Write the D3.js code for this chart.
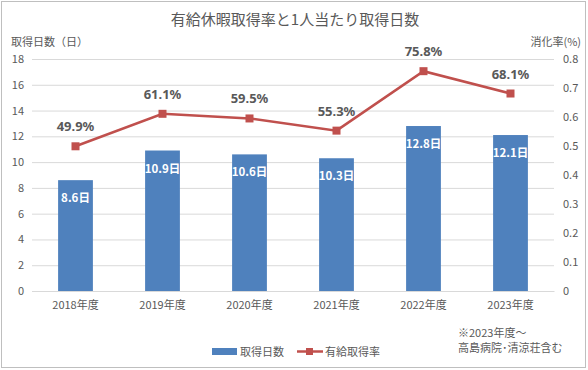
<!DOCTYPE html>
<html><head><meta charset="utf-8">
<script src="https://cdn.jsdelivr.net/npm/d3@7"></script>
<style>
body{margin:0;background:#fff;}
svg{display:block;font-family:"Noto Sans CJK JP","Noto Sans",sans-serif;}
</style></head>
<body>
<svg id="c" width="588" height="370"></svg>
<script>
const categories = ["2018年度","2019年度","2020年度","2021年度","2022年度","2023年度"];
const daysTaken = [8.6, 10.9, 10.6, 10.3, 12.8, 12.1];
const rateTaken = [0.499, 0.611, 0.595, 0.553, 0.758, 0.681];
const leftTicks = [0,2,4,6,8,10,12,14,16,18];
const rightTicks = [0,0.1,0.2,0.3,0.4,0.5,0.6,0.7,0.8];

const svg = d3.select("#c");
const gray = "#595959";
svg.append("rect").attr("x",1.5).attr("y",1.5).attr("width",584).attr("height",366)
  .attr("fill","#fff").attr("stroke","#BFBFBF").attr("stroke-width",1);

const x = d3.scaleBand().domain(categories).range([32,554]).paddingInner(0.6).paddingOuter(0.3);
const yL = d3.scaleLinear().domain([0,18]).range([291,59]);
const yR = d3.scaleLinear().domain([0,0.8]).range([291,59]);

// gridlines
svg.append("g").selectAll("line").data(leftTicks).join("line")
  .attr("x1",32).attr("x2",554).attr("y1",d=>yL(d)+0.5).attr("y2",d=>yL(d)+0.5)
  .attr("stroke","#D9D9D9").attr("stroke-width",1);

// left axis
const axL = svg.append("g").attr("transform","translate(32,0)")
  .call(d3.axisLeft(yL).tickValues(leftTicks).tickSize(0).tickPadding(8));
axL.select(".domain").remove();
axL.selectAll("text").attr("fill",gray).style("font-size","11px").style("font-family","'Noto Sans CJK JP',sans-serif");

// right axis
const axR = svg.append("g").attr("transform","translate(554,0)")
  .call(d3.axisRight(yR).tickValues(rightTicks).tickFormat(d=>d===0?"0":d3.format(".1f")(d)).tickSize(0).tickPadding(9));
axR.select(".domain").remove();
axR.selectAll("text").attr("fill",gray).style("font-size","11px").style("font-family","'Noto Sans CJK JP',sans-serif");

// bottom axis
const axB = svg.append("g").attr("transform","translate(0,291)")
  .call(d3.axisBottom(x).tickSize(0).tickPadding(10));
axB.select(".domain").attr("stroke","#D9D9D9");
axB.selectAll("text").attr("fill",gray).style("font-size","11px").style("font-family","'Noto Sans CJK JP',sans-serif");

// bars
svg.append("g").selectAll("rect").data(daysTaken).join("rect")
  .attr("x",(d,i)=>x(categories[i])).attr("width",x.bandwidth())
  .attr("y",d=>yL(d)).attr("height",d=>yL(0)-yL(d)).attr("fill","#4F81BD");
svg.append("g").selectAll("text").data(daysTaken).join("text")
  .attr("x",(d,i)=>x(categories[i])+x.bandwidth()/2).attr("y",d=>yL(d)+22)
  .attr("text-anchor","middle").attr("fill","#fff").style("font-size","11.5px").style("font-weight","bold")
  .text(d=>d3.format(".1f")(d)+"日");

// line
const cx = (i)=>x(categories[i])+x.bandwidth()/2;
svg.append("path").datum(rateTaken)
  .attr("d",d3.line().x((d,i)=>cx(i)).y(d=>yR(d)))
  .attr("fill","none").attr("stroke","#C0504D").attr("stroke-width",2.5);
svg.append("g").selectAll("rect").data(rateTaken).join("rect")
  .attr("x",(d,i)=>cx(i)-4).attr("y",d=>yR(d)-4).attr("width",8).attr("height",8)
  .attr("fill","#C0504D");
svg.append("g").selectAll("text").data(rateTaken).join("text")
  .attr("x",(d,i)=>cx(i)).attr("y",d=>yR(d)-15)
  .attr("text-anchor","middle").attr("fill",gray).style("font-size","13px").style("font-weight","bold")
  .style("font-family","'Noto Sans',sans-serif")
  .text(d=>d3.format(".1f")(d*100)+"%");

// titles
svg.append("text").attr("x",295).attr("y",25).attr("text-anchor","middle").attr("fill",gray)
  .style("font-size","15px").text("有給休暇取得率と1人当たり取得日数");
svg.append("text").attr("x",11).attr("y",46).attr("fill",gray).style("font-size","11px").text("取得日数（日）");
svg.append("text").attr("x",581).attr("y",46).attr("text-anchor","end").attr("fill",gray).style("font-size","11px").text("消化率(%)");

// note
svg.append("text").attr("x",458).attr("y",337).attr("fill",gray).style("font-size","11px").text("※2023年度～");
svg.append("text").attr("x",458).attr("y",352).attr("fill",gray).style("font-size","11px").text("高島病院･清涼荘含む");

// legend
const lg = svg.append("g");
lg.append("rect").attr("x",212).attr("y",348).attr("width",25).attr("height",7).attr("fill","#4F81BD");
lg.append("text").attr("x",240).attr("y",356).attr("fill",gray).style("font-size","11px").text("取得日数");
lg.append("line").attr("x1",297).attr("x2",323).attr("y1",351.5).attr("y2",351.5).attr("stroke","#C0504D").attr("stroke-width",2.5);
lg.append("rect").attr("x",306).attr("y",348).attr("width",7).attr("height",7).attr("fill","#C0504D");
lg.append("text").attr("x",325).attr("y",356).attr("fill",gray).style("font-size","11px").text("有給取得率");
</script>
</body></html>
